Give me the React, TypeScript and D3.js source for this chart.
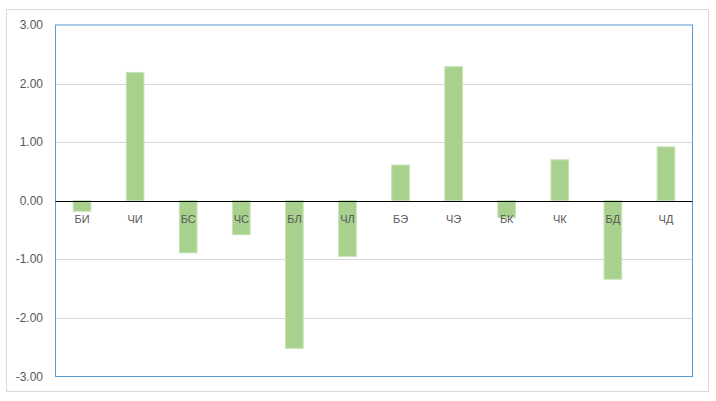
import React from "react";
import * as d3 from "d3";

const categories = ["БИ", "ЧИ", "БС", "ЧС", "БЛ", "ЧЛ", "БЭ", "ЧЭ", "БК", "ЧК", "БД", "ЧД"];
const values = [-0.18, 2.19, -0.89, -0.58, -2.52, -0.95, 0.61, 2.29, -0.29, 0.7, -1.34, 0.92];
const yTicks = [3, 2, 1, 0, -1, -2, -3];

const W = 716;
const H = 401;
const plot = { left: 55.5, top: 25, right: 692.5, bottom: 376.5 };

export default function App() {
  const x = d3.scaleBand<string>().domain(categories).range([plot.left, plot.right]).padding(0);
  const y = d3.scaleLinear().domain([-3, 3]).range([plot.bottom, plot.top]);
  const bw = x.bandwidth() / 3;
  const y0 = y(0);
  const font = "'Liberation Sans', Arial, sans-serif";

  return (
    <svg width={W} height={H} style={{ position: "absolute", left: 0, top: 0, background: "#fff" }}>
      <rect x={6.5} y={9.5} width={702} height={382} fill="#fff" stroke="#d9d9d9" strokeWidth={1} />
      {yTicks.map((t) => (
        <g key={t}>
          {t !== 0 && t !== 3 && t !== -3 && (
            <line x1={plot.left} x2={plot.right} y1={Math.round(y(t)) + 0.5} y2={Math.round(y(t)) + 0.5} stroke="#d9d9d9" strokeWidth={1} />
          )}
          <text x={43} y={y(t) + 4} textAnchor="end" fontFamily={font} fontSize={12} fill="#595959">
            {d3.format(".2f")(t).replace("−", "-")}
          </text>
        </g>
      ))}
      <rect x={plot.left} y={plot.top} width={plot.right - plot.left} height={plot.bottom - plot.top} fill="none" stroke="#5b9bd5" strokeWidth={1} />
      {categories.map((c, i) => {
        const v = values[i];
        const cx = (x(c) as number) + x.bandwidth() / 2;
        const top = Math.min(y(v), y0);
        const h = Math.abs(y(v) - y0);
        return (
          <rect key={c} x={cx - bw / 2} y={top} width={bw} height={h} fill="#a9d18e" stroke="#c9e3b9" strokeWidth={1} />
        );
      })}
      <line x1={plot.left} x2={plot.right} y1={Math.round(y0) + 0.5} y2={Math.round(y0) + 0.5} stroke="#000" strokeWidth={1.2} />
      {categories.map((c) => {
        const cx = (x(c) as number) + x.bandwidth() / 2;
        return (
          <text key={c} x={cx} y={y0 + 22} textAnchor="middle" fontFamily={font} fontSize={11} fill="#595959">
            {c}
          </text>
        );
      })}
    </svg>
  );
}
